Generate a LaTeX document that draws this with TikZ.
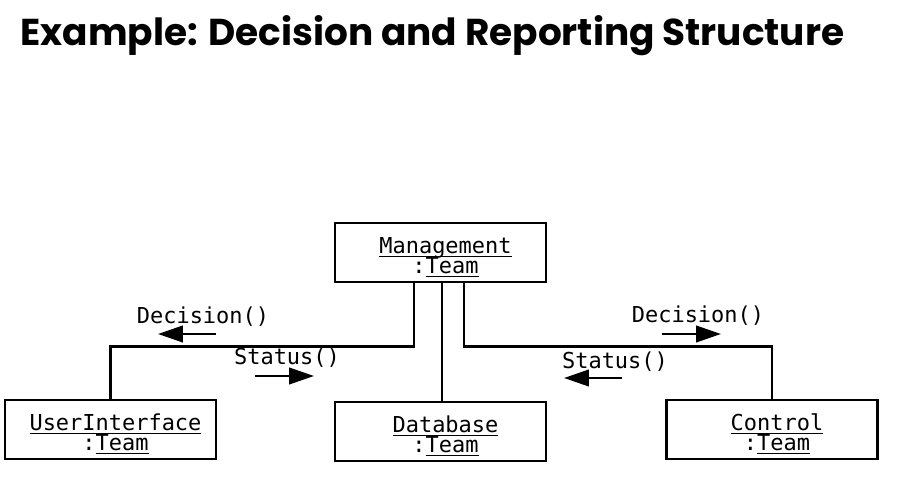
\documentclass[tikz,border=0pt]{standalone}
\usepackage{fontspec}
\setmainfont{Poppins}
\newfontfamily\teamfont{DejaVu Sans Mono}
\usetikzlibrary{arrows.meta}
\newcommand\teamul[1]{\underline{\raisebox{0pt}[\height][0pt]{#1}}}
\newcommand\teamtext[1]{\hspace*{0.2cm}\rule{0pt}{15pt}\teamul{#1}\\\hspace*{0.2cm}:\teamul{Team}}
\tikzset{
  team/.style={draw, line width=1.5pt, minimum width=4.22cm, minimum height=1.18cm,
    align=center, inner sep=0pt, font=\teamfont\fontsize{12.5}{11.4}\selectfont},
  link/.style={line width=1.5pt},
  msg/.style={line width=1.5pt, -{Triangle[length=0.5cm, width=0.33cm]}},
  msglabel/.style={font=\teamfont\fontsize{12.5}{14}\selectfont, inner sep=0pt}
}
\begin{document}
\begin{tikzpicture}[x=0.02cm, y=-0.02cm]
  \useasboundingbox (0,0) rectangle (907,500);
  \node [anchor=base west, inner sep=0pt, font=\fontsize{21.3}{24}\selectfont\bfseries] (title) at (20,46) {Example: Decision and Reporting Structure};

  % team objects
  \node [team] (mgmt) at (440.5,252.5) {\teamtext{Management}};
  \node [team] (ui) at (110.5,429.5) {\teamtext{UserInterface}};
  \node [team] (db) at (440.5,431.5) {\teamtext{Database}};
  \node [team] (ctrl) at (772,429.5) {\teamtext{Control}};

  % links
  \draw [link] ([xshift=-0.53cm]mgmt.south) -- ++(0,63) -| (ui.north);
  \draw [link] ([xshift=0.03cm]mgmt.south) -- ([xshift=0.03cm]db.north);
  \draw [link] ([xshift=0.47cm]mgmt.south) -- ++(0,63) -| (ctrl.north);

  % messages
  \node [msglabel] (decL) at (203,317) {Decision()};
  \node [msglabel] (statL) at (287,358) {Status()};
  \node [msglabel] (decR) at (698,316) {Decision()};
  \node [msglabel] (statR) at (615,362) {Status()};
  \coordinate (decLa) at (216,334);  \coordinate (decLb) at (158,334);
  \coordinate (statLa) at (255,376); \coordinate (statLb) at (314,376);
  \coordinate (decRa) at (662,334);  \coordinate (decRb) at (721,334);
  \coordinate (statRa) at (622,378); \coordinate (statRb) at (564,378);
  \draw [msg] (decLa) -- (decLb);
  \draw [msg] (statLa) -- (statLb);
  \draw [msg] (decRa) -- (decRb);
  \draw [msg] (statRa) -- (statRb);
\end{tikzpicture}
\end{document}
